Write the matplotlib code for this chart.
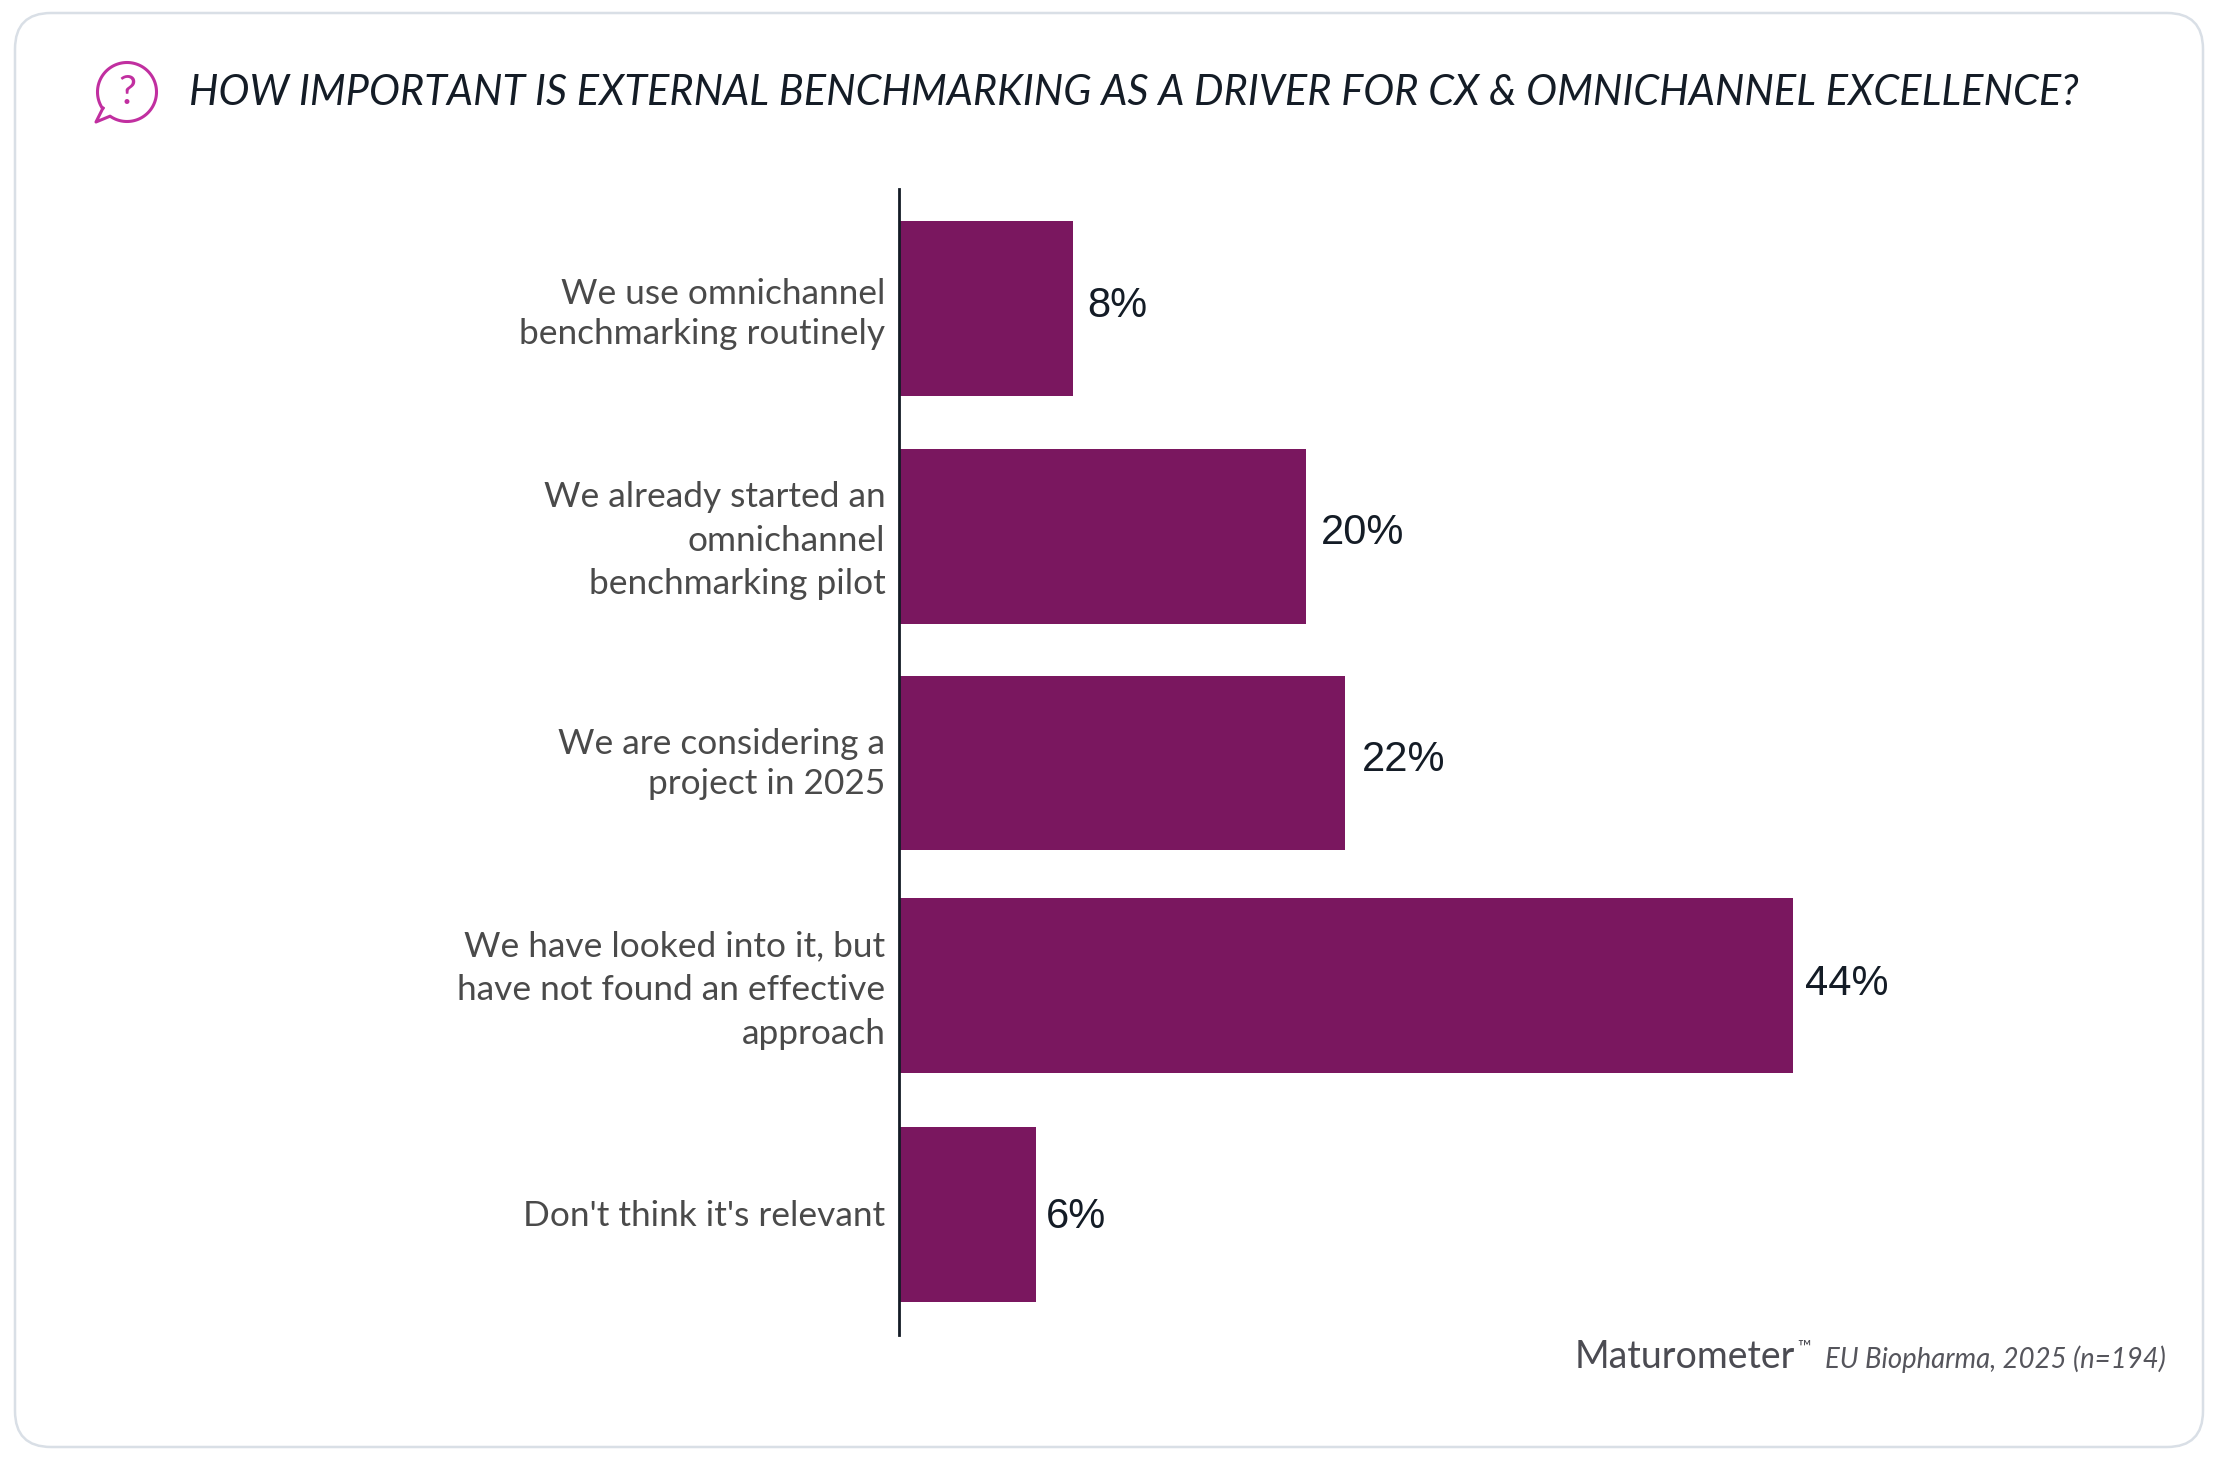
import numpy as np
import matplotlib
matplotlib.use("Agg")
import matplotlib.pyplot as plt
from matplotlib.patches import FancyBboxPatch
from matplotlib.transforms import ScaledTranslation

# data
categories = [
    "We use omnichannel\nbenchmarking routinely",
    "We already started an\nomnichannel\nbenchmarking pilot",
    "We are considering a\nproject in 2025",
    "We have looked into it, but\nhave not found an effective\napproach",
    "Don't think it's relevant",
]
value_labels = ["8%", "20%", "22%", "44%", "6%"]
# drawn lengths differ a little from the printed numbers in the original
bar_lengths = [8.58, 20.13, 22.08, 44.13, 6.83]
bar_starts = [0.0, -0.1, -0.1, -0.1, -0.1]
rows = [0.0, 1.008, 2.006, 2.986, 3.999]

title = "HOW IMPORTANT IS EXTERNAL BENCHMARKING AS A DRIVER FOR CX & OMNICHANNEL EXCELLENCE?"
brand = "Maturometer"
source = "EU Biopharma, 2025 (n=194)"

W, H = 2220, 1474
BAR = "#7a175f"
INK = "#141c26"
GREY = "#4a4a4a"
PINK = "#c12fa0"

plt.rcParams["font.family"] = ["Lato", "DejaVu Sans"]
fig = plt.figure(figsize=(W / 100, H / 100), dpi=100, facecolor="white")

# pixel layer for the card, icon and header/footer text
bg = fig.add_axes([0, 0, 1, 1])
bg.set_xlim(0, W)
bg.set_ylim(H, 0)
bg.axis("off")

card = FancyBboxPatch((15 + 36, 13 + 36), 2188 - 72, 1434 - 72,
                      boxstyle="round,pad=36,rounding_size=36",
                      fc="white", ec="#d9dfe6", lw=1.8)
bg.add_patch(card)

# speech bubble icon
t = np.radians(np.linspace(146, 485, 120))
bx = list(127 + 29.5 * np.cos(t)) + [96, 103]
by = list(92 + 29.5 * np.sin(t)) + [122, 108]
bg.plot(bx, by, color=PINK, lw=2.2, solid_joinstyle="round")
bg.text(127, 92, "?", color=PINK, fontsize=29, fontweight="normal",
        ha="center", va="center")

bg.text(189, 105, title, fontsize=29.9, style="italic", color=INK,
        ha="left", va="baseline")
bg.text(1575, 1368, brand, fontsize=27, color="#4b4b52", ha="left", va="baseline")
bg.text(1797, 1353, "\u2122", fontsize=13, color="#4b4b52", ha="left", va="baseline")
bg.text(1825, 1368, source, fontsize=19.85, style="italic", color="#55555c",
        ha="left", va="baseline")

# chart axes, y runs 189..1335 px, x starts at the axis line
left, top, bottom = 899.2, 189, 1335
px_per_pct = 20.3
ax = fig.add_axes([left / W, 1 - bottom / H, 60 * px_per_pct / W, (bottom - top) / H])
ax.patch.set_alpha(0)
ax.set_xlim(0, 60)
ax.set_ylim(4.53, -0.527)

ax.barh(rows, bar_lengths, left=bar_starts, height=0.772, color=BAR, zorder=1)

ax.set_yticks(rows)
ax.set_yticklabels(categories, fontsize=25.4, color=GREY)
ax.tick_params(axis="y", length=0, pad=10)
ax.set_xticks([])
for side in ["top", "right", "bottom"]:
    ax.spines[side].set_visible(False)
ax.spines["left"].set_color(INK)
ax.spines["left"].set_linewidth(2.0)
ax.spines["left"].set_zorder(3)

# original has uneven line spacing and label centres, nudged per label
line_spacing = [1.31, 1.45, 1.31, 1.45, 1.2]
label_nudge_px = [1, 5, 6, 4, 2]
for lab, ls, nudge in zip(ax.get_yticklabels(), line_spacing, label_nudge_px):
    lab.set_linespacing(ls)
    lab.set_transform(lab.get_transform() + ScaledTranslation(0, nudge / 100, fig.dpi_scale_trans))

label_gaps = [14, 15, 16, 12, 10]
label_lifts = [7, 8, 8, 6, 2]
for r, length, start, text, gap, lift in zip(rows, bar_lengths, bar_starts, value_labels,
                                             label_gaps, label_lifts):
    ax.annotate(text, (start + length, r), xytext=(gap * 0.72, lift * 0.72),
                textcoords="offset points", ha="left", va="center_baseline",
                fontsize=30, color=INK, family=["Liberation Sans", "DejaVu Sans"])

fig.savefig("out.png", dpi=100, facecolor="white")
